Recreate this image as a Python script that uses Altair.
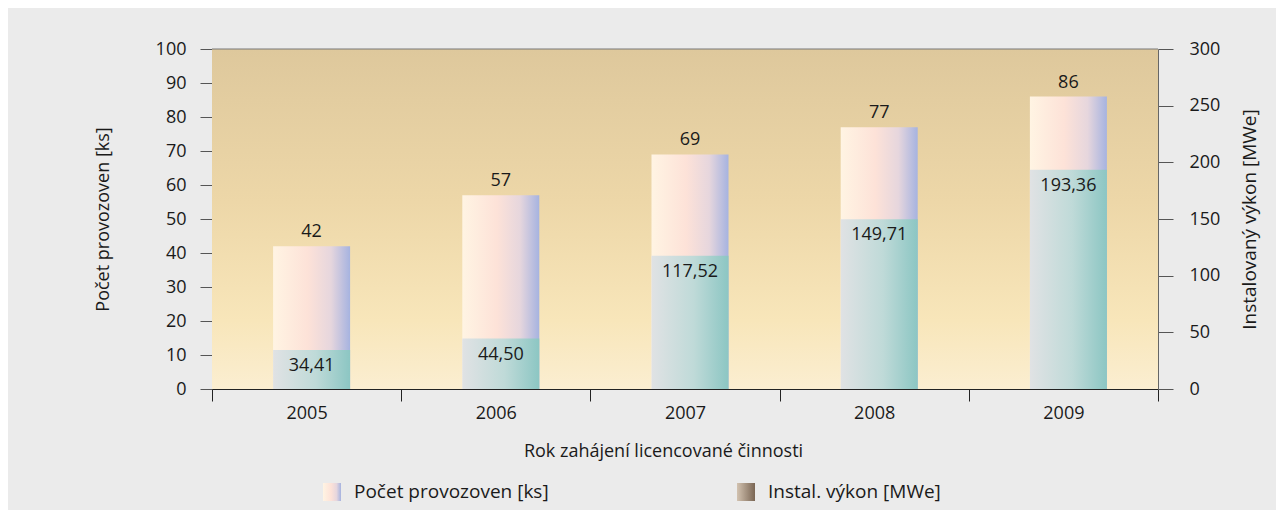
import altair as alt
import pandas as pd

years = ["2005", "2006", "2007", "2008", "2009"]
counts = [42, 57, 69, 77, 86]
power = [34.41, 44.50, 117.52, 149.71, 193.36]
legend_labels = ["Počet provozoven [ks]", "Instal. výkon [MWe]"]

W, H = 946, 340
FONT = "Open Sans"
TXT = "#1a1a1a"

df = pd.DataFrame({
    "year": years,
    "count": counts,
    "power": power,
    "power_label": [f"{v:.2f}".replace(".", ",") for v in power],
})

x_enc = alt.X("year:N", sort=years, scale=alt.Scale(paddingInner=0, paddingOuter=0),
              axis=alt.Axis(title="Rok zahájení licencované činnosti", labelAngle=0,
                            tickBand="extent", tickSize=12, tickColor="#222",
                            domainColor="#222", labelPadding=3, titlePadding=20,
                            titleX=W / 2 - 22, titleAnchor="middle",
                            labelFontSize=18, titleFontSize=18, labelFont=FONT,
                            titleFont=FONT, titleFontWeight="normal",
                            labelColor=TXT, titleColor=TXT))

count_grad = alt.Gradient(gradient="linear", x1=0, x2=1, y1=0, y2=0, stops=[
    alt.GradientStop(color="#fff4e3", offset=0),
    alt.GradientStop(color="#fde2d8", offset=0.45),
    alt.GradientStop(color="#e6d6dd", offset=0.75),
    alt.GradientStop(color="#a6b3e0", offset=1)])
power_grad = alt.Gradient(gradient="linear", x1=0, x2=1, y1=0, y2=0, stops=[
    alt.GradientStop(color="#e0e2e4", offset=0),
    alt.GradientStop(color="#bfdad8", offset=0.55),
    alt.GradientStop(color="#8cc6c3", offset=1)])
bg_grad = alt.Gradient(gradient="linear", x1=0, x2=0, y1=0, y2=1, stops=[
    alt.GradientStop(color="#dec89c", offset=0),
    alt.GradientStop(color="#edd7a8", offset=0.45),
    alt.GradientStop(color="#f8e6ba", offset=0.8),
    alt.GradientStop(color="#fbeed1", offset=1)])
brown_grad = alt.Gradient(gradient="linear", x1=0, x2=1, y1=0, y2=0, stops=[
    alt.GradientStop(color="#d2c2b0", offset=0),
    alt.GradientStop(color="#7a6654", offset=1)])

one = pd.DataFrame({"a": [0]})

bg = alt.Chart(one).mark_rect(fill=bg_grad).encode(
    x=alt.value(0), x2=alt.value(W), y=alt.value(0), y2=alt.value(H))

y_left = alt.Y("count:Q", scale=alt.Scale(domain=[0, 100], nice=False),
               axis=alt.Axis(title="Počet provozoven [ks]", orient="left", values=list(range(0, 101, 10)),
                             tickSize=12, tickColor="#555", domainColor="#222",
                             labelPadding=14, titlePadding=43, labelFontSize=18,
                             titleFontSize=18, labelFont=FONT, titleFont=FONT,
                             titleFontWeight="normal", labelColor=TXT, titleColor=TXT,
                             grid=False))
y_right = alt.Y("power:Q", scale=alt.Scale(domain=[0, 300], nice=False),
                axis=alt.Axis(title="Instalovaný výkon [MWe]", orient="right",
                              values=list(range(0, 301, 50)), titleAngle=270,
                              titleBaseline="bottom",
                              tickSize=15, tickColor="#555", domainColor="#666",
                              labelPadding=16, titlePadding=40, labelFontSize=18,
                              titleFontSize=19, labelFont=FONT, titleFont=FONT,
                              titleFontWeight="normal", labelColor=TXT, titleColor=TXT,
                              grid=False))

base = alt.Chart(df)
left = alt.layer(
    base.mark_bar(width=77, fill=count_grad, xOffset=5).encode(x=x_enc, y=y_left),
    base.mark_text(dy=-14, fontSize=18, font=FONT, color=TXT, xOffset=5).encode(
        x=x_enc, y=y_left, text="count:Q"),
)
right = alt.layer(
    base.mark_bar(width=77, fill=power_grad, xOffset=5).encode(x=x_enc, y=y_right),
    base.mark_text(dy=16, fontSize=18, font=FONT, color=TXT, xOffset=5).encode(
        x=x_enc, y=y_right, text="power_label:N"),
)

top_rule = alt.Chart(one).mark_rule(color="#777", strokeWidth=1).encode(
    x=alt.value(0), x2=alt.value(W), y=alt.value(0))

sw1 = alt.Chart(one).mark_rect(fill=count_grad).encode(
    x=alt.value(111), x2=alt.value(129), y=alt.value(434), y2=alt.value(452))
sw2 = alt.Chart(one).mark_rect(fill=brown_grad).encode(
    x=alt.value(525), x2=alt.value(543), y=alt.value(434), y2=alt.value(452))
lt1 = alt.Chart(one).mark_text(align="left", baseline="middle", fontSize=19, font=FONT,
                               color=TXT, text=legend_labels[0]).encode(
    x=alt.value(142), y=alt.value(443))
lt2 = alt.Chart(one).mark_text(align="left", baseline="middle", fontSize=19, font=FONT,
                               color=TXT, text=legend_labels[1]).encode(
    x=alt.value(556), y=alt.value(443))

chart = alt.layer(bg, top_rule, left, right, sw1, sw2, lt1, lt2).resolve_scale(
    y="independent").properties(
    width=W, height=H,
    autosize=alt.AutoSizeParams(type="none"),
    padding={"left": 204, "top": 41, "right": 118, "bottom": 121},
    background="#ebebeb",
).configure_view(stroke=None)

chart.save("out.html", embed_options={"renderer": "svg", "actions": False})
